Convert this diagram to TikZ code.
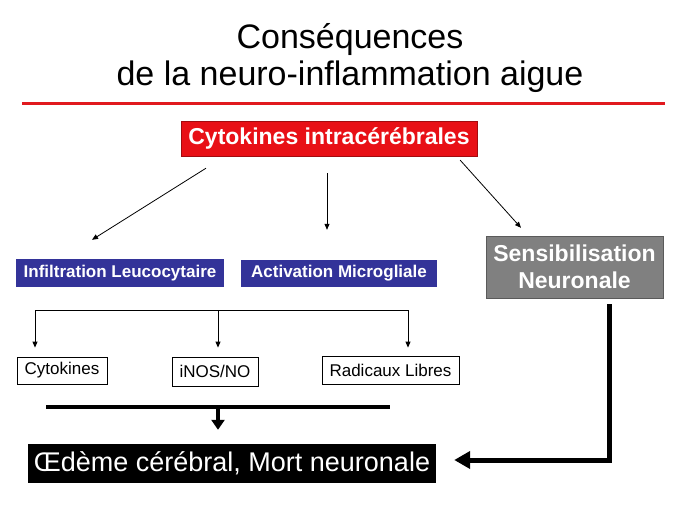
\documentclass[tikz,border=0pt]{standalone}
\usepackage{fontspec}
\setmainfont{Liberation Sans}
\usetikzlibrary{arrows.meta}

\definecolor{titlered}{RGB}{225,25,30}
\definecolor{boxred}{RGB}{232,16,22}
\definecolor{boxblue}{RGB}{51,51,153}
\definecolor{boxgray}{RGB}{128,128,128}

\begin{document}
\begin{tikzpicture}[x=1pt,y=-1pt,
  title/.style={anchor=base,font=\fontsize{34}{36}\selectfont},
  redbox/.style={fill=boxred,draw=boxred!70!black,text=white,inner sep=0pt,font=\bfseries\fontsize{23}{26}\selectfont},
  bluebox/.style={fill=boxblue,text=white,inner sep=0pt,font=\bfseries\fontsize{17}{20}\selectfont},
  graybox/.style={fill=boxgray,draw=boxgray!70!black,text=white,inner sep=0pt,align=center,font=\bfseries\fontsize{23}{27}\selectfont},
  whitebox/.style={draw,line width=0.8pt,inner sep=0pt,font=\fontsize{17}{20}\selectfont},
  blackbox/.style={fill=black,text=white,inner sep=0pt,font=\fontsize{27}{30}\selectfont},
  arr/.style={line width=0.8pt,-{Triangle[length=6pt,width=5pt]}},
  bigarr/.style={line width=4.5pt,-{Triangle[length=10pt,width=13pt]}},
  elbarr/.style={line width=5pt,-{Triangle[length=16pt,width=17pt]}}]
\useasboundingbox (0,0) rectangle (689,517);

\node[title] (t1) at (350,48) {Conséquences};
\node[title] (t2) at (350,85) {de la neuro-inflammation aigue};
\draw[titlered,line width=3pt] (22,103) -- (665,103);

\node[redbox,minimum width=296pt,minimum height=35pt] (cyto) at (329,138.5) {Cytokines intracérébrales};
\node[bluebox,minimum width=208pt,minimum height=28pt] (infl) at (120,273) {Infiltration Leucocytaire};
\node[bluebox,minimum width=196pt,minimum height=27pt] (activ) at (339,273.5) {Activation Microgliale};
\node[graybox,minimum width=177pt,minimum height=62pt] (sens) at (574.5,267) {Sensibilisation\\Neuronale};

\node[whitebox,minimum width=90pt,minimum height=27pt] (cyt) at (62,370.5) {Cytokines};
\node[whitebox,minimum width=86pt,minimum height=29pt] (inos) at (215,371.5) {iNOS/NO};
\node[whitebox,minimum width=137pt,minimum height=28pt] (rad) at (390.5,370) {Radicaux Libres};

\node[blackbox,minimum width=408pt,minimum height=39pt] (oed) at (232,463.5) {Œdème cérébral, Mort neuronale};

% fleches depuis les cytokines
\draw[arr] ([xshift=-123pt,yshift=-12pt]cyto.south) -- ([xshift=-28pt,yshift=19pt]infl.north);
\draw[arr] ([xshift=-2pt,yshift=-17pt]cyto.south) -- ([xshift=-12pt,yshift=30pt]activ.north);
\draw[arr] ([xshift=-17pt,yshift=-4pt]cyto.south east) -- ([xshift=-53.5pt,yshift=8pt]sens.north);

% branchement
\coordinate (b1) at (35,310);
\coordinate (b2) at (218,310);
\coordinate (b3) at (408,310);
\draw[line width=0.8pt] (b1) -- (b3);
\draw[arr,shorten >=9pt] (b1) -- (b1 |- cyt.north);
\draw[arr,shorten >=9pt] (b2) -- (b2 |- inos.north);
\draw[arr,shorten >=8pt] (b3) -- (b3 |- rad.north);

% barre et fleches epaisses
\coordinate (k1) at (46,407);
\coordinate (k2) at (390,407);
\coordinate (km) at (218,405);
\draw[line width=4.5pt] (k1) -- (k2);
\draw[bigarr,shorten >=14pt] (km) -- (km |- oed.north);
\draw[elbarr,shorten >=18pt] ([xshift=34.5pt,yshift=-6pt]sens.south) |- ([yshift=3.5pt]oed.east);
\end{tikzpicture}
\end{document}
